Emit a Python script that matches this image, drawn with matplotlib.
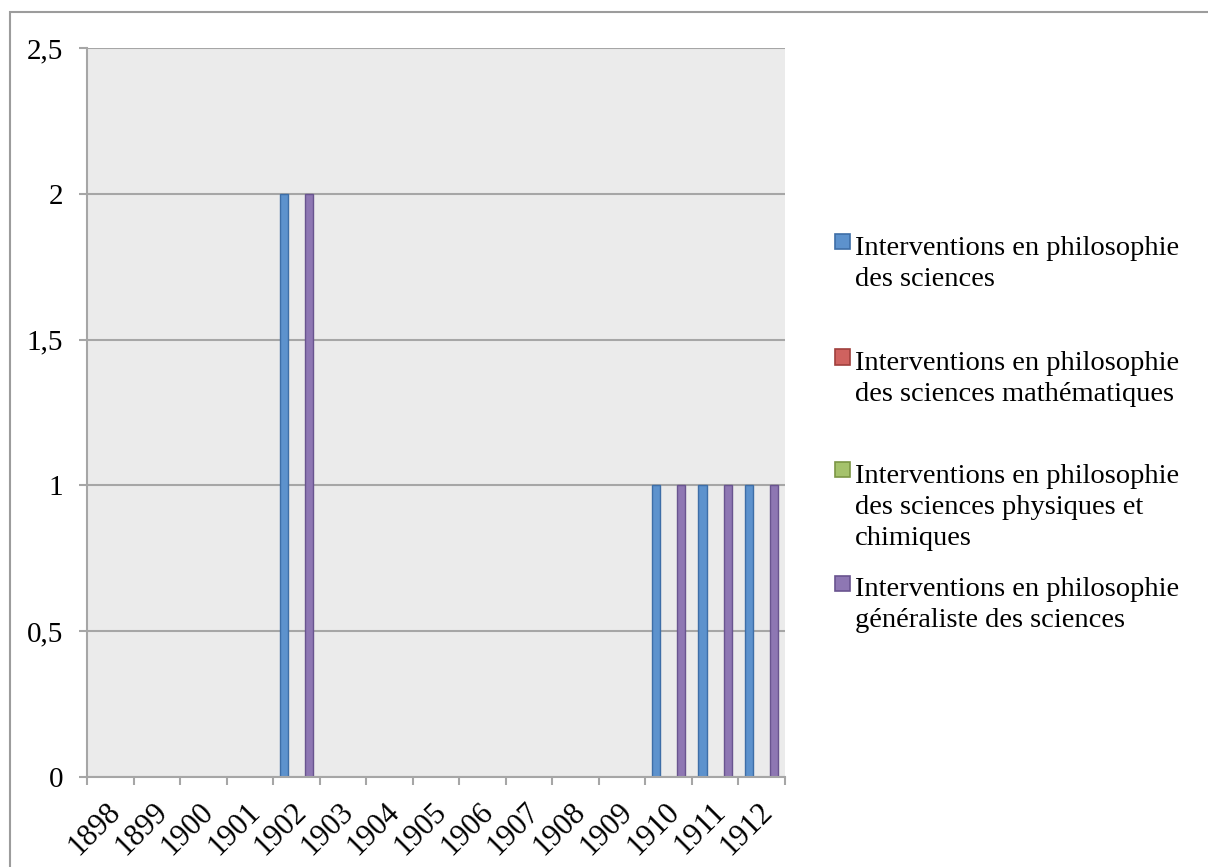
import numpy as np
import matplotlib
matplotlib.use("Agg")
import matplotlib.pyplot as plt
import matplotlib.patches as patches
import matplotlib.transforms as mtransforms
from matplotlib.ticker import FuncFormatter

plt.rcParams['font.family'] = ['Liberation Serif', 'DejaVu Serif']

# --- données ---
years = ['1898', '1899', '1900', '1901', '1902', '1903', '1904', '1905',
         '1906', '1907', '1908', '1909', '1910', '1911', '1912']
philo_sciences = [0, 0, 0, 0, 2, 0, 0, 0, 0, 0, 0, 0, 1, 1, 1]
philo_maths = [0, 0, 0, 0, 0, 0, 0, 0, 0, 0, 0, 0, 0, 0, 0]
philo_physique = [0, 0, 0, 0, 0, 0, 0, 0, 0, 0, 0, 0, 0, 0, 0]
philo_generaliste = [0, 0, 0, 0, 2, 0, 0, 0, 0, 0, 0, 0, 1, 1, 1]

series_labels = [
    ["Interventions en philosophie", "des sciences"],
    ["Interventions en philosophie", "des sciences mathématiques"],
    ["Interventions en philosophie", "des sciences physiques et", "chimiques"],
    ["Interventions en philosophie", "généraliste des sciences"],
]
y_ticks = [0, 0.5, 1, 1.5, 2, 2.5]

faces = ['#5D92CD', '#CF625F', '#A5C26C', '#8E77B3']
edges = ['#3E6EA7', '#A0403D', '#7C9645', '#69548F']
GRID = '#A6A6A6'
FS = 20.5

W, H = 1208, 867
fig = plt.figure(figsize=(W / 100, H / 100), dpi=100)

# cadre du graphique (coupé à droite et en bas)
fig.patches.append(patches.Rectangle((10 / W, -0.1), 1.2, 1 - 12 / H + 0.1,
                                     transform=fig.transFigure, fill=False,
                                     edgecolor='#9C9C9C', linewidth=1.5))

ax = fig.add_axes([87 / W, 1 - 777 / H, (785 - 87) / W, (777 - 48) / H])
ax.set_facecolor('#EBEBEB')

x = np.arange(len(years))
w = 0.18
all_series = [philo_sciences, philo_maths, philo_physique, philo_generaliste]
for i, vals in enumerate(all_series):
    vals = np.array(vals, dtype=float)
    lw = np.where(vals > 0, 1.0, 0.0)
    ax.bar(x + (i - 1.5) * w, vals, w, color=faces[i], edgecolor=edges[i],
           linewidth=lw, zorder=2)

ax.set_xlim(-0.5, len(years) - 0.5)
ax.set_ylim(0, 2.5)
ax.set_yticks(y_ticks)
ax.yaxis.set_major_formatter(FuncFormatter(lambda v, p: f"{v:g}".replace('.', ',')))

ax.set_axisbelow(True)
ax.grid(axis='y', color=GRID, linewidth=1.5)
ax.spines['top'].set_visible(False)
ax.spines['right'].set_visible(False)
for s in ['left', 'bottom']:
    ax.spines[s].set_color(GRID)
    ax.spines[s].set_linewidth(1.5)

# graduations aux limites des catégories, étiquettes au centre
ax.set_xticks(np.arange(-0.5, len(years), 1))
ax.set_xticklabels([])
ax.set_xticks(x, minor=True)
ax.set_xticklabels(years, minor=True, rotation=45, ha='right',
                   rotation_mode='anchor', va='center')
ax.tick_params(axis='both', which='major', length=6, width=1.5, color=GRID,
               labelsize=FS)
ax.tick_params(axis='y', pad=11, labelsize=21)
ax.tick_params(axis='x', which='minor', length=0, pad=22, labelsize=22)
shift = mtransforms.ScaledTranslation(6 / 100, 0, fig.dpi_scale_trans)
for lbl in ax.get_xticklabels(minor=True):
    lbl.set_transform(lbl.get_transform() + shift)

# légende
marker_y = [242, 357, 470, 583]
line_gap = 31
for i, lines in enumerate(series_labels):
    yc = marker_y[i]
    fig.patches.append(patches.Rectangle((835 / W, 1 - (yc + 7.5) / H), 15 / W, 15 / H,
                                         transform=fig.transFigure,
                                         facecolor=faces[i], edgecolor=edges[i],
                                         linewidth=1.2))
    for k, line in enumerate(lines):
        fig.text(855 / W, 1 - (yc + 13 + k * line_gap) / H, line, fontsize=FS,
                 va='baseline', ha='left')

fig.savefig('out.png', dpi=100)
